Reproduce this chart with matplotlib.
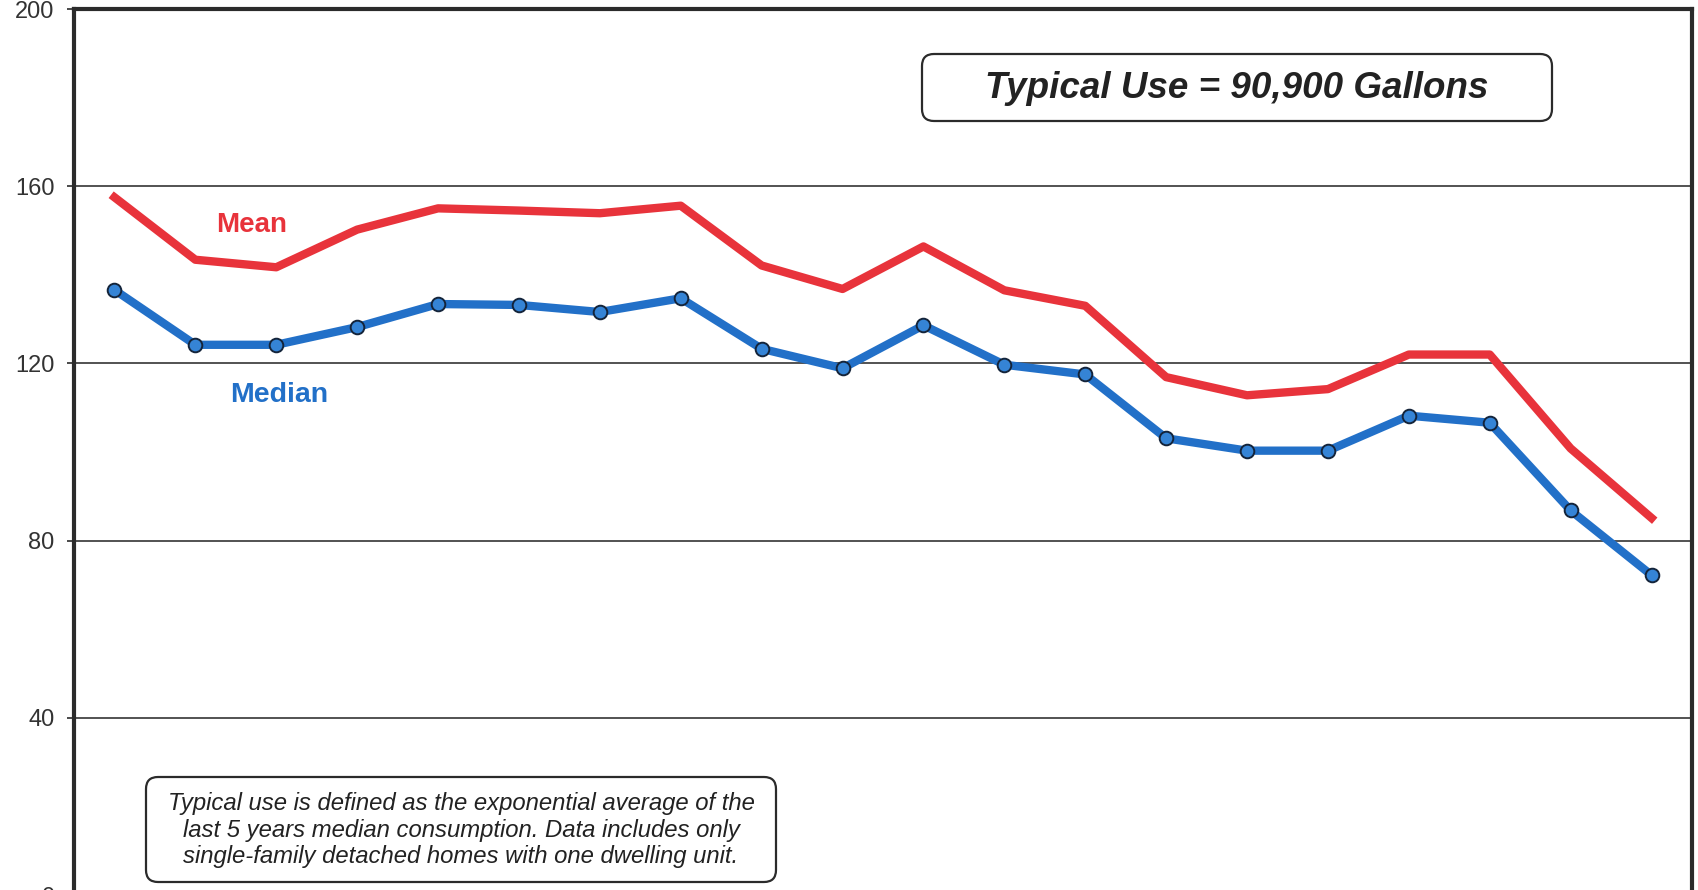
import numpy as np
import matplotlib
matplotlib.use("Agg")
from matplotlib import pyplot as plt
from matplotlib.patches import FancyBboxPatch

plt.rcParams['font.family'] = ['Liberation Sans', 'DejaVu Sans']

#--------------------------------------------------------------------------------------------
# data (thousand gallons per home, 20 consecutive years)
periods = list(range(20))
mean_use = [157.5, 143.4, 141.7, 150.2, 155.0, 154.5, 153.9, 155.6, 142.1, 136.8,
            146.4, 136.5, 133.0, 116.9, 112.8, 114.2, 122.0, 122.0, 100.8, 85.1]
median_use = [136.6, 124.2, 124.2, 128.2, 133.4, 133.2, 131.6, 134.7, 123.3, 118.9,
              128.6, 119.7, 117.5, 103.1, 100.3, 100.3, 108.2, 106.6, 86.8, 72.2]
y_ticks = [0, 40, 80, 120, 160, 200]
headline = "Typical Use = 90,900 Gallons"
footnote = ("Typical use is defined as the exponential average of the\n"
            "last 5 years median consumption. Data includes only\n"
            "single-family detached homes with one dwelling unit.")

RED = '#e8333b'
BLUE = '#2270c8'
DARK = '#2b2b2b'

W, H = 1699, 890
fig = plt.figure(figsize=(W / 100, H / 100), dpi=100)
ax = fig.add_axes([74 / W, -5 / H, (1692 - 74) / W, (895 - 9) / H])

#--------------------------------------------------------------------------------------------
ax.plot(periods, mean_use, color=RED, lw=6, zorder=3)
ax.plot(periods, median_use, color=BLUE, lw=6, marker='o', markersize=9.8,
        markerfacecolor='#3584d6', markeredgecolor='#14243a', markeredgewidth=1.4,
        zorder=4)

ax.set_xlim(-0.5, 19.5)
ax.set_ylim(0, 200)
ax.set_yticks(y_ticks)
ax.set_xticks([])
ax.grid(axis='y', color='#444444', lw=1.3)
ax.set_axisbelow(True)
for sp in ax.spines.values():
  sp.set_linewidth(3)
  sp.set_color(DARK)
ax.tick_params(axis='y', direction='out', length=5, width=1.2, color=DARK,
               pad=9, labelsize=17, labelcolor='#333333')

# series labels
fig.text(252 / W, 1 - 225 / H, 'Mean', color=RED, fontsize=20, fontweight='bold',
         ha='center', va='center')
fig.text(279 / W, 1 - 395 / H, 'Median', color=BLUE, fontsize=20.5, fontweight='bold',
         ha='center', va='center')

#--------------------------------------------------------------------------------------------
def box(x0, y0, x1, y1, r=12):
  p = FancyBboxPatch((x0 / W, 1 - y1 / H), (x1 - x0) / W, (y1 - y0) / H,
                     boxstyle='round,pad=0,rounding_size=%f' % (r / W),
                     mutation_aspect=W / H, transform=fig.transFigure,
                     facecolor='white', edgecolor=DARK, lw=1.6, zorder=5)
  fig.add_artist(p)

box(922, 54, 1552, 121)
fig.text(1237 / W, 1 - 88 / H, headline, fontsize=26.5, fontweight='bold',
         fontstyle='italic', color='#222222', ha='center', va='center', zorder=6)

box(146, 777, 776, 882)
fig.text(461 / W, 1 - 830 / H, footnote, fontsize=17.2, fontstyle='italic',
         color='#222222', ha='center', va='center', linespacing=1.17, zorder=6)

fig.savefig('out.png', dpi=100)
